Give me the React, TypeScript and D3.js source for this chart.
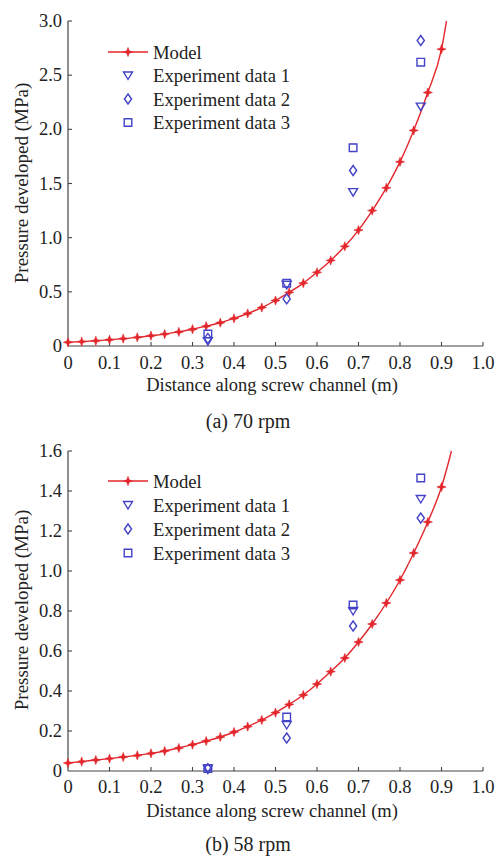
import React from "react";
import * as d3 from "d3";

// ---------- data ----------
const modelX = [0, 0.033, 0.067, 0.1, 0.133, 0.167, 0.2, 0.233, 0.267, 0.3, 0.333, 0.367, 0.4, 0.433,
  0.467, 0.5, 0.533, 0.567, 0.6, 0.633, 0.667, 0.7, 0.733, 0.767, 0.8, 0.833, 0.867, 0.9];

const model70 = [0.034, 0.04, 0.048, 0.058, 0.068, 0.08, 0.095, 0.11, 0.13, 0.155, 0.183, 0.215, 0.255, 0.3,
  0.355, 0.42, 0.495, 0.58, 0.68, 0.79, 0.92, 1.07, 1.25, 1.46, 1.7, 1.99, 2.34, 2.74];
const model70Tail = { x: 0.912, y: 3.0 };

const model58 = [0.04, 0.047, 0.055, 0.062, 0.07, 0.078, 0.088, 0.1, 0.115, 0.132, 0.15, 0.17, 0.195, 0.222,
  0.255, 0.292, 0.333, 0.38, 0.435, 0.497, 0.565, 0.645, 0.735, 0.84, 0.955, 1.09, 1.245, 1.42];
const model58Tail = { x: 0.924, y: 1.6 };

const expX = [0.337, 0.527, 0.687, 0.85];
const exp70_1 = [0.045, 0.565, 1.42, 2.21];
const exp70_2 = [0.07, 0.435, 1.62, 2.82];
const exp70_3 = [0.11, 0.58, 1.83, 2.62];
const exp58_1 = [0.012, 0.23, 0.8, 1.36];
const exp58_2 = [0.012, 0.165, 0.725, 1.265];
const exp58_3 = [0.012, 0.27, 0.83, 1.465];

const xTicks = [0, 0.1, 0.2, 0.3, 0.4, 0.5, 0.6, 0.7, 0.8, 0.9, 1.0];
const yTicks70 = [0, 0.5, 1.0, 1.5, 2.0, 2.5, 3.0];
const yTicks58 = [0, 0.2, 0.4, 0.6, 0.8, 1.0, 1.2, 1.4, 1.6];

const legendLabels = ["Model", "Experiment data 1", "Experiment data 2", "Experiment data 3"];

// ---------- style ----------
const FONT = "'Liberation Serif', 'Times New Roman', serif";
const RED = "#e3262b";
const BLUE = "#4343c8";
const AXIS = "#444";

function starPath(R: number, r: number) {
  const pts: [number, number][] = [];
  for (let k = 0; k < 8; k++) {
    const a = (k * Math.PI) / 4 - Math.PI / 2;
    const rad = k % 2 === 0 ? R : r;
    pts.push([Math.cos(a) * rad, Math.sin(a) * rad]);
  }
  return "M" + pts.map((p) => p.join(",")).join("L") + "Z";
}
const STAR = starPath(4.6, 1.7);
const TRI = "M-4.5,-3.5L4.5,-3.5L0,4Z";
const DIA = "M0,-5L3.6,0L0,5L-3.6,0Z";
const SQR = "M-3.8,-3.8L3.8,-3.8L3.8,3.8L-3.8,3.8Z";
const expShapes = [TRI, DIA, SQR];

type PanelProps = {
  y0: number;
  yTop: number;
  yMax: number;
  yTicks: number[];
  model: number[];
  tail: { x: number; y: number };
  exps: number[][];
  legendY: number;
  legendStep: number;
  caption: string;
  captionY: number;
  tickLabelY: number;
  titleY: number;
  yTitleY: number;
};

function Panel(p: PanelProps) {
  const x = d3.scaleLinear().domain([0, 1]).range([68, 483]);
  const y = d3.scaleLinear().domain([0, p.yMax]).range([p.y0, p.yTop]);
  const pts: [number, number][] = modelX.map((mx, i) => [mx, p.model[i]]);
  const linePts: [number, number][] = [...pts, [p.tail.x, p.tail.y]];
  const line = d3
    .line<[number, number]>()
    .x((d) => x(d[0]))
    .y((d) => y(d[1]))
    .curve(d3.curveMonotoneX);
  const fmt = (v: number) => (v === 0 ? "0" : v.toFixed(1));
  return (
    <g>
      {/* axes */}
      <line x1={x(0)} x2={x(1)} y1={y(0)} y2={y(0)} stroke={AXIS} strokeWidth={1.2} />
      <line x1={x(0)} x2={x(0)} y1={y(0)} y2={y(p.yMax)} stroke={AXIS} strokeWidth={1.2} />
      {xTicks.map((t) => (
        <g key={"xt" + t}>
          {t > 0 && <line x1={x(t)} x2={x(t)} y1={y(0)} y2={y(0) - 4} stroke={AXIS} strokeWidth={1.1} />}
          <text x={x(t)} y={p.tickLabelY} textAnchor="middle" dominantBaseline="central" fontSize={18.5} fontFamily={FONT} fill="#222">
            {fmt(t)}
          </text>
        </g>
      ))}
      {p.yTicks.map((t) => (
        <g key={"yt" + t}>
          {t > 0 && <line x1={x(0)} x2={x(0) + 4} y1={y(t)} y2={y(t)} stroke={AXIS} strokeWidth={1.1} />}
          <text x={62} y={y(t)} textAnchor="end" dominantBaseline="central" fontSize={18.5} fontFamily={FONT} fill="#222">
            {fmt(t)}
          </text>
        </g>
      ))}
      <text x={272} y={p.titleY} textAnchor="middle" dominantBaseline="central" fontSize={18.5} fontFamily={FONT} fill="#222">
        Distance along screw channel (m)
      </text>
      <text
        transform={`translate(21,${p.yTitleY}) rotate(-90)`}
        textAnchor="middle"
        dominantBaseline="central"
        fontSize={19}
        fontFamily={FONT}
        fill="#222"
      >
        Pressure developed (MPa)
      </text>
      <text x={248} y={p.captionY} textAnchor="middle" dominantBaseline="central" fontSize={20} fontFamily={FONT} fill="#222">
        {p.caption}
      </text>

      {/* model */}
      <path d={line(linePts) || ""} fill="none" stroke={RED} strokeWidth={1.4} />
      {pts.map((d, i) => (
        <path key={"m" + i} d={STAR} transform={`translate(${x(d[0])},${y(d[1])})`} fill={RED} stroke={RED} strokeWidth={0.6} />
      ))}

      {/* experiments */}
      {p.exps.map((ser, si) =>
        ser.map((v, i) => (
          <path
            key={"e" + si + "-" + i}
            d={expShapes[si]}
            transform={`translate(${x(expX[i])},${y(v)})`}
            fill="none"
            stroke={BLUE}
            strokeWidth={1.4}
          />
        ))
      )}

      {/* legend */}
      {legendLabels.map((lab, i) => {
        const ly = p.legendY + i * p.legendStep;
        return (
          <g key={"lg" + i}>
            {i === 0 ? (
              <g>
                <line x1={108} x2={148} y1={ly} y2={ly} stroke={RED} strokeWidth={1.4} />
                <path d={STAR} transform={`translate(128,${ly})`} fill={RED} stroke={RED} strokeWidth={0.6} />
              </g>
            ) : (
              <path d={expShapes[i - 1]} transform={`translate(128,${ly})`} fill="none" stroke={BLUE} strokeWidth={1.4} />
            )}
            <text x={153} y={ly} dominantBaseline="central" fontSize={18.7} fontFamily={FONT} fill="#222">
              {lab}
            </text>
          </g>
        );
      })}
    </g>
  );
}

export default function App() {
  return (
    <svg
      width={498}
      height={856}
      style={{ position: "absolute", left: 0, top: 0, background: "#fff" }}
    >
      <rect x={0} y={0} width={498} height={856} fill="#fff" />
      <Panel
        y0={346}
        yTop={21}
        yMax={3.0}
        yTicks={yTicks70}
        model={model70}
        tail={model70Tail}
        exps={[exp70_1, exp70_2, exp70_3]}
        legendY={52}
        legendStep={23.5}
        caption="(a) 70 rpm"
        captionY={421}
        tickLabelY={363}
        titleY={385}
        yTitleY={183}
      />
      <Panel
        y0={771}
        yTop={451}
        yMax={1.6}
        yTicks={yTicks58}
        model={model58}
        tail={model58Tail}
        exps={[exp58_1, exp58_2, exp58_3]}
        legendY={481}
        legendStep={24}
        caption="(b) 58 rpm"
        captionY={844}
        tickLabelY={787}
        titleY={811}
        yTitleY={610}
      />
    </svg>
  );
}
